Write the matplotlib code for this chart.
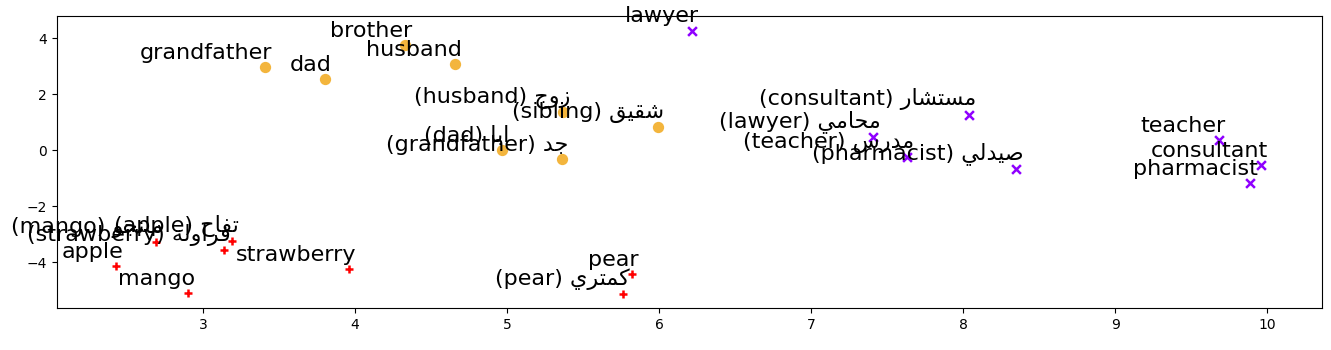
"""Word-embedding scatter: English words and their Arabic counterparts, by topic."""
import matplotlib
matplotlib.use("Agg")
import matplotlib.pyplot as plt

# Arabic words written in visual (left-to-right) order with presentation forms,
# since matplotlib does no shaping or bidi reordering itself.
AR_HUSBAND = "\uFE9D\uFEED\uFEAF"                      # زوج
AR_SIBLING = "\uFED6\uFEF4\uFED8\uFEB7"                # شقيق
AR_DAD = "\uFE8E\uFE91\uFE8D"                          # ابا
AR_GRANDFATHER = "\uFEAA\uFE9F"                        # جد
AR_CONSULTANT = "\uFEAD\uFE8E\uFEB8\uFE98\uFEB4\uFEE3"  # مستشار
AR_LAWYER = "\uFEF2\uFEE3\uFE8E\uFEA4\uFEE3"           # محامي
AR_TEACHER = "\uFEB1\uFEAD\uFEAA\uFEE3"                # مدرس
AR_PHARMACIST = "\uFEF2\uFEDF\uFEAA\uFEF4\uFEBB"       # صيدلي
AR_APPLE = "\uFEA1\uFE8E\uFED4\uFE97"                  # تفاح
AR_STRAWBERRY = "\uFE94\uFEDF\uFEED\uFE8D\uFEAE\uFED3"  # فراولة
AR_MANGO = "\uFEEE\uFEA0\uFEE7\uFE8E\uFEE3"            # مانجو
AR_PEAR = "\uFEF1\uFEAE\uFE98\uFEE4\uFEDB"             # كمتري

fruit_labels = ["apple", "mango", "strawberry", "pear",
                f"(pear) {AR_PEAR}", f"(apple) {AR_APPLE}",
                f"(strawberry) {AR_STRAWBERRY}", f"(mango) {AR_MANGO}"]
fruit_x = [2.43, 2.90, 3.96, 5.82, 5.76, 3.19, 3.14, 2.69]
fruit_y = [-4.14, -5.11, -4.25, -4.43, -5.14, -3.25, -3.57, -3.29]

family_labels = ["grandfather", "dad", "brother", "husband",
                 f"(husband) {AR_HUSBAND}", f"(sibling) {AR_SIBLING}",
                 f"(dad) {AR_DAD}", f"(grandfather) {AR_GRANDFATHER}"]
family_x = [3.41, 3.80, 4.33, 4.66, 5.37, 5.99, 4.97, 5.36]
family_y = [2.96, 2.54, 3.75, 3.07, 1.35, 0.82, 0.00, -0.32]

job_labels = ["lawyer", "teacher", "consultant", "pharmacist",
              f"(consultant) {AR_CONSULTANT}", f"(lawyer) {AR_LAWYER}",
              f"(teacher) {AR_TEACHER}", f"(pharmacist) {AR_PHARMACIST}"]
job_x = [6.22, 9.68, 9.96, 9.89, 8.04, 7.41, 7.63, 8.35]
job_y = [4.27, 0.36, -0.54, -1.19, 1.27, 0.48, -0.26, -0.69]

RED = "red"
ORANGE = "#F3B53D"
PURPLE = "#8F00FF"

fig = plt.figure(figsize=(13.31, 3.5), dpi=100)
ax = fig.add_axes([0.0428, 0.12, 0.9504, 0.834])

groups = [
    (fruit_labels, fruit_x, fruit_y, "+", RED),
    (family_labels, family_x, family_y, "o", ORANGE),
    (job_labels, job_x, job_y, "x", PURPLE),
]
for labels, xs, ys, marker, color in groups:
    ax.scatter(xs, ys, marker=marker, color=color, s=40, linewidths=1.8)
    for lab, x, y in zip(labels, xs, ys):
        ax.annotate(lab, (x, y), xytext=(5, 3), textcoords="offset points",
                    ha="right", va="bottom", fontsize=16)

ax.set_xlim(2.04, 10.36)
ax.set_ylim(-5.64, 4.79)
ax.set_xticks(range(3, 11))
ax.set_yticks([-4, -2, 0, 2, 4])

fig.savefig("out.png", dpi=100)
